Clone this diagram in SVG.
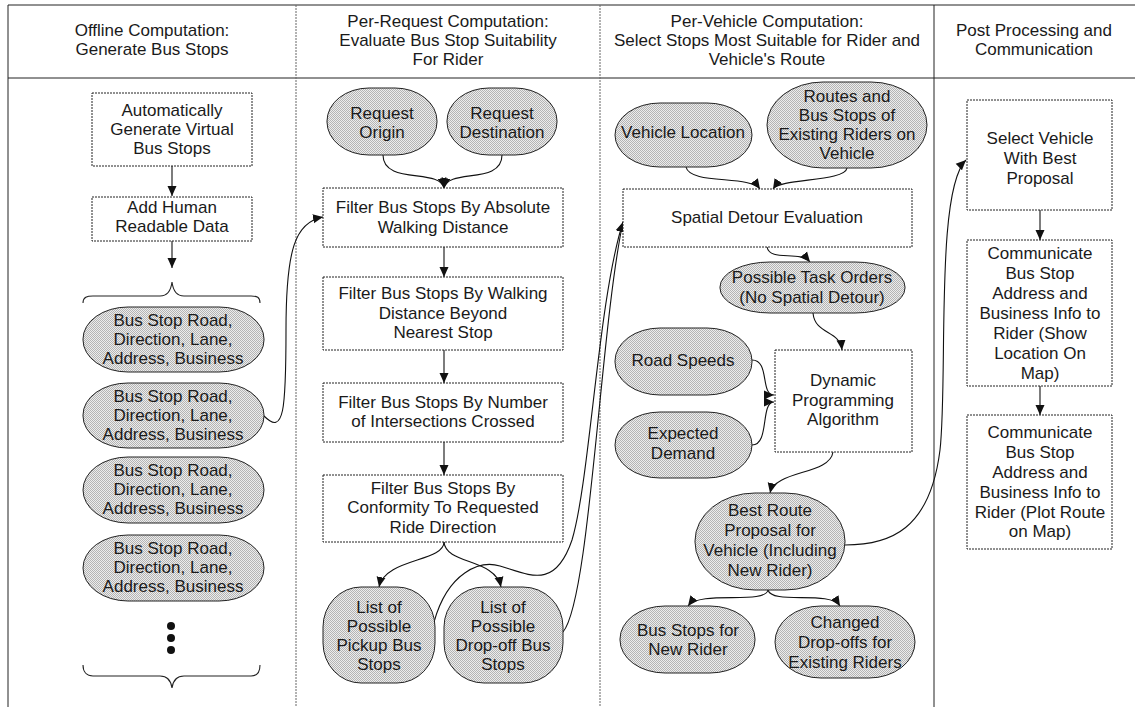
<svg xmlns="http://www.w3.org/2000/svg" width="1135" height="707" viewBox="0 0 1135 707">
  <style>
    .lane { stroke: #222; stroke-width: 1; fill: none; }
    .lane-light { stroke: #666; stroke-width: 1; fill: none; stroke-dasharray: 2 1; }
    .box { fill: #fff; stroke: #222; stroke-width: 1; stroke-dasharray: 2 1; }
    .data { fill: url(#dots); stroke: #222; stroke-width: 1; }
    .t { font-family: "Liberation Sans", Arial, sans-serif; font-size: 17px; fill: #1a1a1a; text-anchor: middle; }
    .edge { fill: none; stroke: #111; stroke-width: 1.1; marker-end: url(#arrow); }
    .brace { fill: none; stroke: #222; stroke-width: 1.1; }
  </style>
  <defs>
    <!-- fine halftone stipple for data nodes -->
    <pattern id="dots" patternUnits="userSpaceOnUse" width="2" height="2">
      <rect width="2" height="2" fill="#ececec"/>
      <rect x="0" y="0" width="1" height="1" fill="#b4b4b4"/>
      <rect x="1" y="1" width="1" height="1" fill="#b4b4b4"/>
    </pattern>
    <marker id="arrow" markerUnits="userSpaceOnUse" markerWidth="11" markerHeight="11" viewBox="0 0 11 11" refX="10" refY="5.5" orient="auto">
      <path d="M0,1 L10,5.5 L0,10 Z" fill="#111"/>
    </marker>
  </defs>

  <rect width="1135" height="707" fill="#fff"/>

  <!-- swimlanes -->
  <g id="lanes">
    <line class="lane" x1="8" y1="5" x2="1135" y2="5"/>
    <line class="lane" x1="8" y1="78" x2="1135" y2="78"/>
    <line class="lane" x1="8" y1="5" x2="8" y2="707"/>
    <line class="lane-light" x1="296" y1="5" x2="296" y2="707"/>
    <line class="lane-light" x1="600" y1="5" x2="600" y2="707"/>
    <line class="lane" x1="934" y1="5" x2="934" y2="707"/>
    <text class="t"><tspan x="152" y="36">Offline Computation:</tspan><tspan x="152" y="55">Generate Bus Stops</tspan></text>
    <text class="t"><tspan x="448" y="27">Per-Request Computation:</tspan><tspan x="448" y="46">Evaluate Bus Stop Suitability</tspan><tspan x="448" y="65">For Rider</tspan></text>
    <text class="t"><tspan x="767" y="27">Per-Vehicle Computation:</tspan><tspan x="767" y="46">Select Stops Most Suitable for Rider and</tspan><tspan x="767" y="65">Vehicle's Route</tspan></text>
    <text class="t"><tspan x="1034" y="36">Post Processing and</tspan><tspan x="1034" y="55">Communication</tspan></text>
  </g>

  <!-- connectors -->
  <g id="connectors">
    <path class="edge" d="M172 166 L172 196"/>
    <path class="edge" d="M172 241 L172 268"/>
    <path class="edge" d="M264 416 C284 436, 286 410, 286 330 C286 250, 295 222, 323 217"/>
    <path class="edge" d="M383 155 C383 185, 440 168, 444 188"/>
    <path class="edge" d="M502 155 C502 185, 448 168, 444 188"/>
    <path class="edge" d="M444 247 L444 277"/>
    <path class="edge" d="M444 350 L444 383"/>
    <path class="edge" d="M444 442 L444 475"/>
    <path class="edge" d="M444 542 C444 562, 385 558, 379 587"/>
    <path class="edge" d="M444 542 C446 565, 495 558, 501 587"/>
    <path class="edge" d="M434 622 C448 572, 480 560, 500 566 C530 575, 555 590, 572 540 C590 480, 598 300, 623 222"/>
    <path class="edge" d="M563 632 C590 600, 600 330, 623 222"/>
    <path class="edge" d="M686 167 C690 185, 750 175, 760 189"/>
    <path class="edge" d="M847 168 C845 182, 780 178, 773 189"/>
    <path class="edge" d="M767 247 C770 262, 800 250, 810 262"/>
    <path class="edge" d="M813 313 C815 335, 840 330, 842 350"/>
    <path class="edge" d="M752 360 C770 360, 760 395, 774 395"/>
    <path class="edge" d="M752 445 C770 445, 760 402, 774 402"/>
    <path class="edge" d="M833 452 C830 475, 775 470, 770 493"/>
    <path class="edge" d="M768 590 C765 605, 700 590, 688 606"/>
    <path class="edge" d="M768 590 C772 605, 830 590, 840 606"/>
    <path class="edge" d="M845 545 C890 545, 930 530, 940 450 C948 380, 935 190, 966 160"/>
    <path class="edge" d="M1040 210 L1040 240"/>
    <path class="edge" d="M1040 386 L1040 415"/>
  </g>

  <!-- offline lane -->
  <g id="generate-stops">
    <rect class="box" x="92" y="93" width="160" height="73"/>
    <text class="t"><tspan x="172" y="116">Automatically</tspan><tspan x="172" y="135">Generate Virtual</tspan><tspan x="172" y="154">Bus Stops</tspan></text>
  </g>
  <g id="add-readable">
    <rect class="box" x="92" y="197" width="160" height="44"/>
    <text class="t"><tspan x="172" y="213">Add Human</tspan><tspan x="172" y="232">Readable Data</tspan></text>
  </g>
  <g id="brace-top">
    <path class="brace" d="M83 303 C83 297, 87 296, 93 296 L160 296 C168 296, 171 290, 172 282 C173 290, 176 296, 184 296 L251 296 C257 296, 260 297, 260 303"/>
  </g>
  <g id="stop-1">
    <rect class="data" x="83" y="307" width="181" height="65" rx="45" ry="32"/>
    <text class="t"><tspan x="173" y="326">Bus Stop Road,</tspan><tspan x="173" y="345">Direction, Lane,</tspan><tspan x="173" y="364">Address, Business</tspan></text>
  </g>
  <g id="stop-2">
    <rect class="data" x="83" y="383" width="181" height="65" rx="45" ry="32"/>
    <text class="t"><tspan x="173" y="402">Bus Stop Road,</tspan><tspan x="173" y="421">Direction, Lane,</tspan><tspan x="173" y="440">Address, Business</tspan></text>
  </g>
  <g id="stop-3">
    <rect class="data" x="83" y="457" width="181" height="66" rx="45" ry="33"/>
    <text class="t"><tspan x="173" y="476">Bus Stop Road,</tspan><tspan x="173" y="495">Direction, Lane,</tspan><tspan x="173" y="514">Address, Business</tspan></text>
  </g>
  <g id="stop-4">
    <rect class="data" x="83" y="535" width="181" height="66" rx="45" ry="33"/>
    <text class="t"><tspan x="173" y="554">Bus Stop Road,</tspan><tspan x="173" y="573">Direction, Lane,</tspan><tspan x="173" y="592">Address, Business</tspan></text>
  </g>
  <g id="more-stops">
    <circle cx="171" cy="626" r="4" fill="#111"/>
    <circle cx="171" cy="638" r="4" fill="#111"/>
    <circle cx="171" cy="650" r="4" fill="#111"/>
  </g>
  <g id="brace-bottom">
    <path class="brace" d="M83 665 C83 672, 87 676, 93 676 L160 676 C168 676, 171 681, 172 688 C173 681, 176 676, 184 676 L251 676 C257 676, 260 672, 260 665"/>
  </g>

  <!-- per-request lane -->
  <g id="request-origin">
    <rect class="data" x="327" y="88" width="110" height="67" rx="42" ry="33"/>
    <text class="t"><tspan x="382" y="119">Request</tspan><tspan x="382" y="138">Origin</tspan></text>
  </g>
  <g id="request-destination">
    <rect class="data" x="447" y="88" width="110" height="67" rx="42" ry="33"/>
    <text class="t"><tspan x="502" y="119">Request</tspan><tspan x="502" y="138">Destination</tspan></text>
  </g>
  <g id="filter-absolute">
    <rect class="box" x="323" y="188" width="240" height="59"/>
    <text class="t"><tspan x="443" y="213">Filter Bus Stops By Absolute</tspan><tspan x="443" y="233">Walking Distance</tspan></text>
  </g>
  <g id="filter-beyond">
    <rect class="box" x="323" y="277" width="240" height="73"/>
    <text class="t"><tspan x="443" y="299">Filter Bus Stops By Walking</tspan><tspan x="443" y="319">Distance Beyond</tspan><tspan x="443" y="338">Nearest Stop</tspan></text>
  </g>
  <g id="filter-intersections">
    <rect class="box" x="323" y="383" width="240" height="59"/>
    <text class="t"><tspan x="443" y="408">Filter Bus Stops By Number</tspan><tspan x="443" y="427">of Intersections Crossed</tspan></text>
  </g>
  <g id="filter-direction">
    <rect class="box" x="323" y="475" width="240" height="67"/>
    <text class="t"><tspan x="443" y="494">Filter Bus Stops By</tspan><tspan x="443" y="513">Conformity To Requested</tspan><tspan x="443" y="533">Ride Direction</tspan></text>
  </g>
  <g id="pickup-list">
    <rect class="data" x="323" y="587" width="112" height="96" rx="38" ry="40"/>
    <text class="t"><tspan x="379" y="613">List of</tspan><tspan x="379" y="632">Possible</tspan><tspan x="379" y="651">Pickup Bus</tspan><tspan x="379" y="670">Stops</tspan></text>
  </g>
  <g id="dropoff-list">
    <rect class="data" x="444" y="587" width="119" height="96" rx="40" ry="40"/>
    <text class="t"><tspan x="503" y="613">List of</tspan><tspan x="503" y="632">Possible</tspan><tspan x="503" y="651">Drop-off Bus</tspan><tspan x="503" y="670">Stops</tspan></text>
  </g>

  <!-- per-vehicle lane -->
  <g id="vehicle-location">
    <rect class="data" x="615" y="103" width="137" height="64" rx="45" ry="32"/>
    <text class="t"><tspan x="683" y="138">Vehicle Location</tspan></text>
  </g>
  <g id="existing-riders">
    <rect class="data" x="767" y="82" width="160" height="86" rx="56" ry="43"/>
    <text class="t"><tspan x="847" y="102">Routes and</tspan><tspan x="847" y="121">Bus Stops of</tspan><tspan x="847" y="140">Existing Riders on</tspan><tspan x="847" y="159">Vehicle</tspan></text>
  </g>
  <g id="spatial-detour">
    <rect class="box" x="623" y="189" width="289" height="58"/>
    <text class="t"><tspan x="767" y="223">Spatial Detour Evaluation</tspan></text>
  </g>
  <g id="task-orders">
    <rect class="data" x="720" y="262" width="185" height="51" rx="50" ry="25"/>
    <text class="t"><tspan x="812" y="283">Possible Task Orders</tspan><tspan x="812" y="303">(No Spatial Detour)</tspan></text>
  </g>
  <g id="road-speeds">
    <rect class="data" x="615" y="328" width="137" height="67" rx="45" ry="33"/>
    <text class="t"><tspan x="683" y="366">Road Speeds</tspan></text>
  </g>
  <g id="dynamic-programming">
    <rect class="box" x="775" y="350" width="137" height="102"/>
    <text class="t"><tspan x="843" y="386">Dynamic</tspan><tspan x="843" y="406">Programming</tspan><tspan x="843" y="425">Algorithm</tspan></text>
  </g>
  <g id="expected-demand">
    <rect class="data" x="615" y="412" width="137" height="66" rx="45" ry="33"/>
    <text class="t"><tspan x="683" y="439">Expected</tspan><tspan x="683" y="459">Demand</tspan></text>
  </g>
  <g id="best-route">
    <rect class="data" x="695" y="493" width="150" height="97" rx="60" ry="48"/>
    <text class="t"><tspan x="770" y="516">Best Route</tspan><tspan x="770" y="536">Proposal for</tspan><tspan x="770" y="556">Vehicle (Including</tspan><tspan x="770" y="576">New Rider)</tspan></text>
  </g>
  <g id="new-rider-stops">
    <rect class="data" x="620" y="606" width="135" height="67" rx="45" ry="33"/>
    <text class="t"><tspan x="688" y="636">Bus Stops for</tspan><tspan x="688" y="655">New Rider</tspan></text>
  </g>
  <g id="changed-dropoffs">
    <rect class="data" x="775" y="606" width="140" height="72" rx="46" ry="36"/>
    <text class="t"><tspan x="845" y="628">Changed</tspan><tspan x="845" y="648">Drop-offs for</tspan><tspan x="845" y="668">Existing Riders</tspan></text>
  </g>

  <!-- post processing lane -->
  <g id="select-vehicle">
    <rect class="box" x="967" y="100" width="145" height="110"/>
    <text class="t"><tspan x="1040" y="144">Select Vehicle</tspan><tspan x="1040" y="164">With Best</tspan><tspan x="1040" y="184">Proposal</tspan></text>
  </g>
  <g id="communicate-location">
    <rect class="box" x="967" y="240" width="145" height="146"/>
    <text class="t"><tspan x="1040" y="259">Communicate</tspan><tspan x="1040" y="279">Bus Stop</tspan><tspan x="1040" y="299">Address and</tspan><tspan x="1040" y="319">Business Info to</tspan><tspan x="1040" y="339">Rider (Show</tspan><tspan x="1040" y="359">Location On</tspan><tspan x="1040" y="379">Map)</tspan></text>
  </g>
  <g id="communicate-route">
    <rect class="box" x="967" y="415" width="145" height="134"/>
    <text class="t"><tspan x="1040" y="438">Communicate</tspan><tspan x="1040" y="458">Bus Stop</tspan><tspan x="1040" y="478">Address and</tspan><tspan x="1040" y="498">Business Info to</tspan><tspan x="1040" y="518">Rider (Plot Route</tspan><tspan x="1040" y="537">on Map)</tspan></text>
  </g>
</svg>
